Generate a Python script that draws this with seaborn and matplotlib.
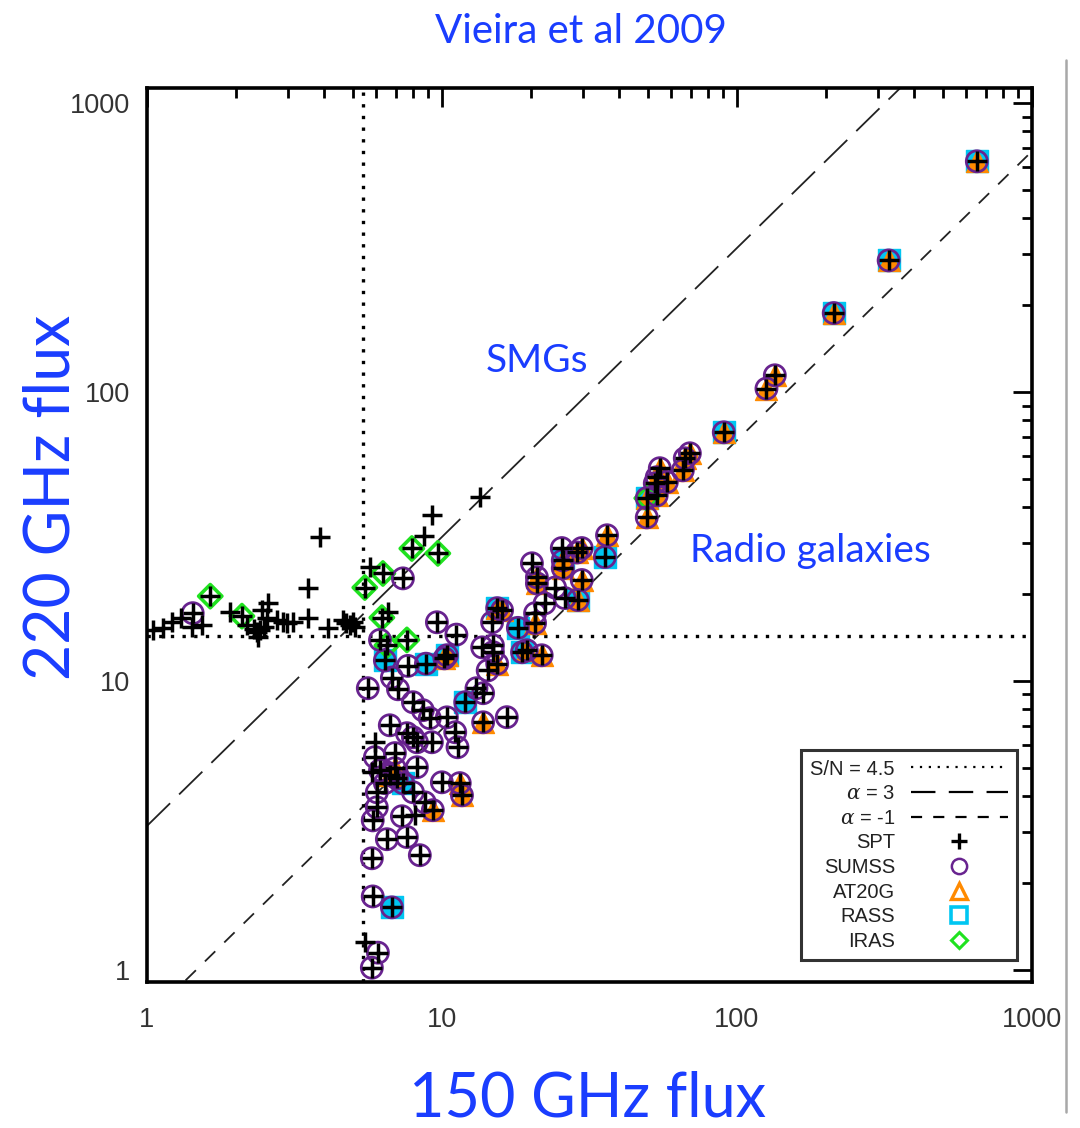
import numpy as np
import pandas as pd
import matplotlib
matplotlib.use("Agg")
import matplotlib.pyplot as plt
import seaborn as sns
from matplotlib.lines import Line2D
from matplotlib.ticker import FixedLocator, FixedFormatter, NullFormatter, LogLocator

# ---------------- data ----------------
# 150 GHz flux, 220 GHz flux, and cross-match codes
# S = SUMSS, A = AT20G, R = RASS, I = IRAS
s150 = [
    1.05, 1.13, 1.22, 1.31, 1.43, 1.42, 1.64, 1.54, 1.91, 2.10, 2.18, 2.36, 2.38,
    2.30, 2.42, 2.50, 2.45, 2.57, 2.55, 2.76, 2.89, 2.98, 3.13, 3.51, 3.51, 3.86,
    4.11, 4.62, 4.75, 4.88, 5.00, 5.07, 5.48, 5.70,
    6.31, 7.38, 7.91, 9.69, 8.69, 9.25, 13.5, 6.56, 6.26, 6.17, 6.51, 7.61, 6.41,
    7.67, 8.83, 10.4, 9.62, 11.2,
    5.61, 6.77, 7.10, 7.98, 8.62, 9.10, 10.4, 6.66, 5.93, 7.61, 7.98, 8.23, 9.25,
    11.3, 5.93, 6.93, 8.23, 6.17, 6.66, 7.04, 7.38, 6.41, 6.93, 6.02, 7.98, 10.0,
    11.5, 11.7, 6.02, 5.83, 7.32, 8.09, 8.75, 9.32, 6.51, 7.61, 8.42, 5.79, 5.83,
    6.77, 5.48, 6.07, 5.79, 5.79,
    15.4, 16.0, 14.8, 18.1, 13.7, 14.9, 14.9, 18.7, 19.4, 21.8, 15.4, 14.3, 13.1,
    13.8, 12.0, 13.8, 16.6, 11.1, 20.2, 21.0, 21.0, 22.3, 20.7, 20.7, 24.2, 26.1,
    28.9, 29.8, 25.5, 25.7, 25.7, 29.8, 28.7, 35.7, 36.3, 10.2,
    49.5, 49.5, 53.5, 52.7, 57.9, 53.5, 54.8, 65.6, 66.6, 69.3, 90.3, 126.0, 134.5,
    213.0, 327.0, 651.0,
]
s220 = [
    15.0, 15.3, 16.0, 16.5, 17.2, 15.4, 19.7, 15.6, 17.3, 16.8, 15.6, 14.8, 14.2,
    15.2, 15.0, 15.4, 17.6, 18.6, 16.5, 16.3, 16.0, 15.9, 16.0, 21.1, 16.5, 31.5,
    15.3, 16.3, 15.9, 15.6, 16.0, 15.4, 21.1, 24.8,
    23.6, 22.7, 28.8, 27.7, 31.8, 37.5, 43.3, 17.3, 16.6, 13.9, 13.3, 13.9, 11.8,
    11.3, 11.5, 12.3, 16.0, 14.5,
    9.46, 10.3, 9.38, 8.46, 7.94, 7.45, 7.50, 7.04, 6.15, 6.61, 6.40, 6.15, 6.15,
    5.91, 5.46, 5.64, 5.04, 4.92, 4.73, 4.61, 4.44, 4.44, 5.00, 4.13, 4.13, 4.47,
    4.44, 4.03, 3.66, 3.30, 3.41, 3.44, 3.81, 3.58, 2.84, 2.89, 2.50, 2.44, 1.80,
    1.65, 1.25, 1.15, 1.02, 4.84,
    17.9, 17.6, 16.0, 15.3, 13.1, 13.3, 12.6, 12.6, 12.8, 12.3, 11.5, 10.9, 9.46,
    9.09, 8.46, 7.21, 7.51, 6.66, 25.6, 22.9, 21.8, 18.6, 17.2, 15.9, 21.1, 19.4,
    19.1, 22.4, 28.9, 26.2, 24.6, 28.9, 27.9, 26.9, 32.0, 12.0,
    36.9, 43.0, 44.0, 48.4, 48.9, 50.8, 54.6, 53.7, 59.1, 61.5, 72.7, 103.0, 114.5,
    188.0, 286.0, 630.0,
]
match = [
    "", "", "", "", "S", "", "I", "", "", "I", "", "", "",
    "", "", "", "", "", "", "", "", "", "", "", "", "",
    "", "", "", "", "", "", "I", "",
    "I", "S", "I", "I", "", "", "", "", "I", "S", "I", "I", "RS",
    "S", "RS", "RSA", "S", "S",
    "S", "S", "S", "S", "S", "S", "S", "S", "", "S", "S", "S", "S",
    "S", "S", "S", "S", "S", "SA", "S", "RS", "S", "SA", "S", "S", "S",
    "SA", "SA", "S", "S", "S", "", "S", "SA", "S", "S", "S", "S", "S",
    "RS", "", "S", "S", "",
    "RSA", "SA", "S", "RS", "S", "S", "S", "RS", "SA", "SA", "SA", "S", "S",
    "S", "RS", "SA", "S", "S", "S", "SA", "SA", "S", "S", "SA", "S", "S",
    "RSA", "SA", "S", "RSA", "SA", "SA", "SA", "RS", "SA", "SA",
    "SA", "IRSA", "SA", "SA", "SA", "SA", "SA", "SA", "SA", "SA", "RSA", "SA", "SA",
    "RSA", "RSA", "RSA",
]

sn_cut_150 = 5.4      # S/N = 4.5 threshold, 150 GHz
sn_cut_220 = 14.3     # S/N = 4.5 threshold, 220 GHz
alphas = [3, -1]
nu1, nu2 = 150.0, 220.0

df = pd.DataFrame({"s150": s150, "s220": s220, "match": match})

# ---------------- style ----------------
sns.set_style("white")
plt.rcParams["font.family"] = ["Liberation Sans", "DejaVu Sans"]
plt.rcParams["mathtext.fontset"] = "dejavuserif"

blue = "#1a3dff"
purple = "#68238f"
orange = "#ff8a00"
cyan = "#00c6f2"
green = "#1fe21f"

fig = plt.figure(figsize=(10.8, 11.28), dpi=100)
ax = fig.add_axes([0.136, 0.1294, 0.8194, 0.7926])
ax.set_xscale("log")
ax.set_yscale("log")
ax.set_xlim(1, 1000)
ax.set_ylim(0.91, 1130)

# reference lines (power laws S ~ nu^alpha)
xx = np.logspace(0, 3, 200)
line_df = pd.DataFrame({
    "x": np.concatenate([xx, xx]),
    "y": np.concatenate([xx * (nu2 / nu1) ** alphas[0], xx * (nu2 / nu1) ** alphas[1]]),
    "a": ["a3"] * len(xx) + ["am1"] * len(xx),
})
sub = line_df[line_df.a == "a3"]
ax.plot(sub.x, sub.y, color="#222222", lw=1.3, dashes=(18, 7), zorder=1)
sub = line_df[line_df.a == "am1"]
ax.plot(sub.x, sub.y, color="#222222", lw=1.3, dashes=(8, 7), zorder=1)

ax.axhline(sn_cut_220, color="black", lw=2.4, ls=(0, (1, 2.5)), zorder=1)
ax.axvline(sn_cut_150, color="black", lw=2.4, ls=(0, (1, 2.5)), zorder=1)

# catalogue layers
sns.scatterplot(data=df[df.match.str.contains("R")], x="s150", y="s220", marker="s",
                s=260, color=cyan, edgecolor=cyan, linewidth=1, legend=False, ax=ax, zorder=2)
sns.scatterplot(data=df[df.match.str.contains("A")], x="s150", y="s220", marker="^",
                s=250, color=orange, edgecolor=orange, linewidth=1, legend=False, ax=ax, zorder=3)
sns.scatterplot(data=df[df.match.str.contains("I")], x="s150", y="s220", marker="D",
                s=140, facecolor="none", edgecolor=green, linewidth=2.6, legend=False, ax=ax, zorder=4)
sns.scatterplot(data=df[df.match.str.contains("S")], x="s150", y="s220", marker="o",
                s=230, facecolor="none", edgecolor=purple, linewidth=2.0, legend=False, ax=ax, zorder=5)
sns.scatterplot(data=df, x="s150", y="s220", marker="+", s=200, color="black",
                linewidth=2.5, legend=False, ax=ax, zorder=6)

# axes styling
ticks = [1, 10, 100, 1000]
labels = ["1", "10", "100", "1000"]
ax.xaxis.set_major_locator(FixedLocator(ticks))
ax.xaxis.set_major_formatter(FixedFormatter(labels))
ax.yaxis.set_major_locator(FixedLocator(ticks))
ax.yaxis.set_major_formatter(FixedFormatter(labels))
ax.xaxis.set_minor_locator(LogLocator(base=10, subs=np.arange(2, 10)))
ax.yaxis.set_minor_locator(LogLocator(base=10, subs=np.arange(2, 10)))
ax.xaxis.set_minor_formatter(NullFormatter())
ax.yaxis.set_minor_formatter(NullFormatter())
ax.tick_params(which="both", direction="in", top=True, right=True, width=2,
               colors="black", labelcolor="#333333", labelsize=19.5)
ax.tick_params(which="major", length=14)
ax.tick_params(which="minor", length=7)
ax.tick_params(axis="x", pad=18)
ax.tick_params(axis="y", pad=12)
for sp in ax.spines.values():
    sp.set_linewidth(2.6)
    sp.set_color("black")
ax.set_xlabel("")
ax.set_ylabel("")

# legend
handles = [
    Line2D([], [], color="black", lw=1.6, ls=(0, (1, 3))),
    Line2D([], [], color="black", lw=1.6, dashes=(11, 6)),
    Line2D([], [], color="black", lw=1.6, dashes=(5, 5)),
    Line2D([], [], ls="none", marker="+", color="black", markersize=11, markeredgewidth=2.4),
    Line2D([], [], ls="none", marker="o", markerfacecolor="none", markeredgecolor=purple,
           markersize=11, markeredgewidth=1.8),
    Line2D([], [], ls="none", marker="^", markerfacecolor="none", markeredgecolor=orange,
           markersize=12, markeredgewidth=2.4),
    Line2D([], [], ls="none", marker="s", markerfacecolor="none", markeredgecolor=cyan,
           markersize=11, markeredgewidth=2.6),
    Line2D([], [], ls="none", marker="D", markerfacecolor="none", markeredgecolor=green,
           markersize=8, markeredgewidth=2.2),
]
leg_labels = ["S/N = 4.5", r"$\alpha$ = 3", r"$\alpha$ = -1", "SPT", "SUMSS", "AT20G", "RASS", "IRAS"]
leg = ax.legend(handles, leg_labels, loc="lower right", bbox_to_anchor=(0.983, 0.0246),
                borderaxespad=0, markerfirst=False, fontsize=14.5, handlelength=4.8,
                handletextpad=0.8, labelspacing=0.28, frameon=True, fancybox=False,
                borderpad=0.45, facecolor="white", edgecolor="black")
leg.get_frame().set_linewidth(2.2)
for t in leg.get_texts():
    t.set_color("#222222")
leg.set_zorder(10)

# annotations
ax.text(21, 118, "SMGs", color=blue, fontsize=28, family=["Lato", "DejaVu Sans"],
        ha="center", va="baseline")
ax.text(177, 25.8, "Radio galaxies", color=blue, fontsize=28, family=["Lato", "DejaVu Sans"],
        ha="center", va="baseline")

fig.text(0.538, 0.962, "Vieira et al 2009", color=blue, fontsize=29,
         family=["Lato", "DejaVu Sans"], ha="center", va="baseline")
fig.text(0.544, 0.010, "150 GHz flux", color=blue, fontsize=44,
         family=["Lato", "DejaVu Sans"], ha="center", va="baseline")
fig.text(0.064, 0.559, "220 GHz flux", color=blue, fontsize=45, rotation=90,
         rotation_mode="anchor", family=["Lato", "DejaVu Sans"], ha="center", va="baseline")

# slide edge line on the right
fig.add_artist(Line2D([1066 / 1080, 1066 / 1080], [1 - 60 / 1128, 1 - 1112 / 1128],
                      transform=fig.transFigure, color="#a8a8a8", lw=1.8))

fig.savefig("out.png", dpi=100, facecolor="white")
